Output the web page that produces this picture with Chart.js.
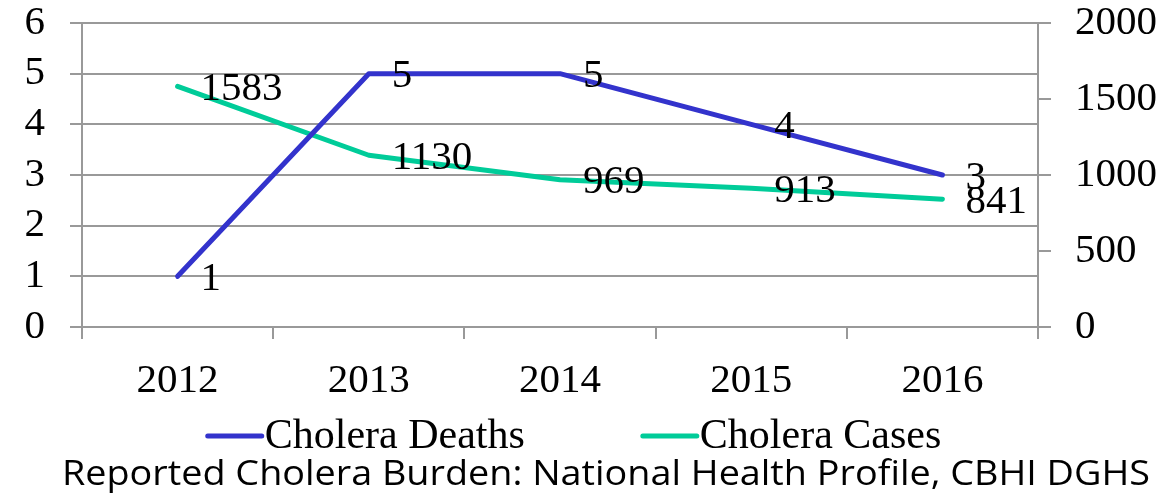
<!DOCTYPE html>
<html>
<head>
<meta charset="utf-8">
<script src="https://cdn.jsdelivr.net/npm/chart.js@4.4.0/dist/chart.umd.min.js"></script>
<style>
html,body{margin:0;padding:0;background:#fff;}
</style>
</head>
<body>
<canvas id="grafico" width="1165" height="499"></canvas>
<script>
// dados
const anos = ['2012', '2013', '2014', '2015', '2016'];
const mortes = [1, 5, 5, 4, 3];
const casos = [1583, 1130, 969, 913, 841];
const ticksMortes = [0, 1, 2, 3, 4, 5, 6];
const ticksCasos = [0, 500, 1000, 1500, 2000];
const titulo = 'Reported Cholera Burden: National Health Profile, CBHI DGHS';

const azul = '#3333CC';
const verde = '#00CC99';
const cinza = '#999999';
const serif = '"Liberation Serif", "Times New Roman", serif';
const fonte = { family: serif, size: 41, lineHeight: 1 };

// rotulos ao lado dos pontos
const rotulos = {
  id: 'rotulos',
  afterDatasetsDraw(chart) {
    const ctx = chart.ctx;
    ctx.save();
    ctx.font = '41px ' + serif;
    ctx.fillStyle = '#000';
    ctx.textAlign = 'left';
    ctx.textBaseline = 'middle';
    chart.data.datasets.forEach((ds, i) => {
      chart.getDatasetMeta(i).data.forEach((pt, j) => {
        ctx.fillText(ds.data[j], pt.x + 23, pt.y + 3);
      });
    });
    ctx.restore();
  }
};

// legenda + titulo embaixo
const legenda = {
  id: 'legenda',
  afterDraw(chart) {
    const ctx = chart.ctx;
    ctx.save();
    ctx.font = '42px ' + serif;
    ctx.textBaseline = 'middle';
    const y = 436;
    const itens = chart.data.datasets.map(ds => ({
      label: ds.label, cor: ds.borderColor,
      w: 60 + ctx.measureText(ds.label).width
    }));
    const gap = 115;
    const total = itens.reduce((s, it) => s + it.w, 0) + gap * (itens.length - 1);
    let x = 573 - total / 2;
    itens.forEach(it => {
      ctx.strokeStyle = it.cor;
      ctx.lineWidth = 5;
      ctx.lineCap = 'round';
      ctx.beginPath();
      ctx.moveTo(x + 3, y);
      ctx.lineTo(x + 57, y);
      ctx.stroke();
      ctx.fillStyle = '#000';
      ctx.textAlign = 'left';
      ctx.fillText(it.label, x + 60, y + 1);
      x += it.w + gap;
    });
    // titulo
    ctx.font = '35px "Open Sans", sans-serif';
    const tw = ctx.measureText(titulo).width;
    ctx.translate(606, 475);
    ctx.scale(1088 / tw, 1);
    ctx.textAlign = 'center';
    ctx.fillText(titulo, 0, 0);
    ctx.restore();
  }
};

// tira o espaco extra que o chart.js poe por causa do padding dos ticks
function semPaddingVertical(s) {
  s.paddingTop = 0;
  s.paddingBottom = 0;
}

new Chart(document.getElementById('grafico'), {
  type: 'line',
  data: {
    labels: anos,
    datasets: [
      {
        label: 'Cholera Deaths',
        data: mortes,
        yAxisID: 'y',
        borderColor: azul,
        borderWidth: 5,
        borderCapStyle: 'round',
        borderJoinStyle: 'round',
        pointRadius: 0,
        tension: 0
      },
      {
        label: 'Cholera Cases',
        data: casos,
        yAxisID: 'y1',
        borderColor: verde,
        borderWidth: 5,
        borderCapStyle: 'round',
        borderJoinStyle: 'round',
        pointRadius: 0,
        tension: 0
      }
    ]
  },
  options: {
    responsive: false,
    animation: false,
    devicePixelRatio: 1,
    layout: { padding: { top: 23, bottom: 90, left: 0, right: 0 } },
    plugins: {
      legend: { display: false },
      title: { display: false },
      tooltip: { enabled: false }
    },
    scales: {
      x: {
        offset: true,
        grid: { offset: true, drawOnChartArea: false, drawTicks: true, tickLength: 12, color: cinza, lineWidth: 2 },
        border: { display: false },
        ticks: { font: fonte, color: '#000', padding: 22, maxRotation: 0 },
        afterFit(s) { s.height = 82; }
      },
      y: {
        position: 'left',
        min: 0, max: 6,
        afterBuildTicks(s) { s.ticks = ticksMortes.map(v => ({ value: v })); },
        ticks: { font: fonte, color: '#000', padding: 25 },
        grid: { color: cinza, lineWidth: 2, tickLength: 12 },
        border: { color: cinza, width: 2 },
        afterFit(s) { s.width = 82; semPaddingVertical(s); }
      },
      y1: {
        position: 'right',
        min: 0, max: 2000,
        afterBuildTicks(s) { s.ticks = ticksCasos.map(v => ({ value: v })); },
        ticks: { font: fonte, color: '#000', padding: 24, callback: v => String(v) },
        grid: { drawOnChartArea: false, color: cinza, lineWidth: 2, tickLength: 13 },
        border: { color: cinza, width: 2 },
        afterFit(s) { s.width = 127; semPaddingVertical(s); }
      }
    }
  },
  plugins: [rotulos, legenda]
});
</script>
</body>
</html>
